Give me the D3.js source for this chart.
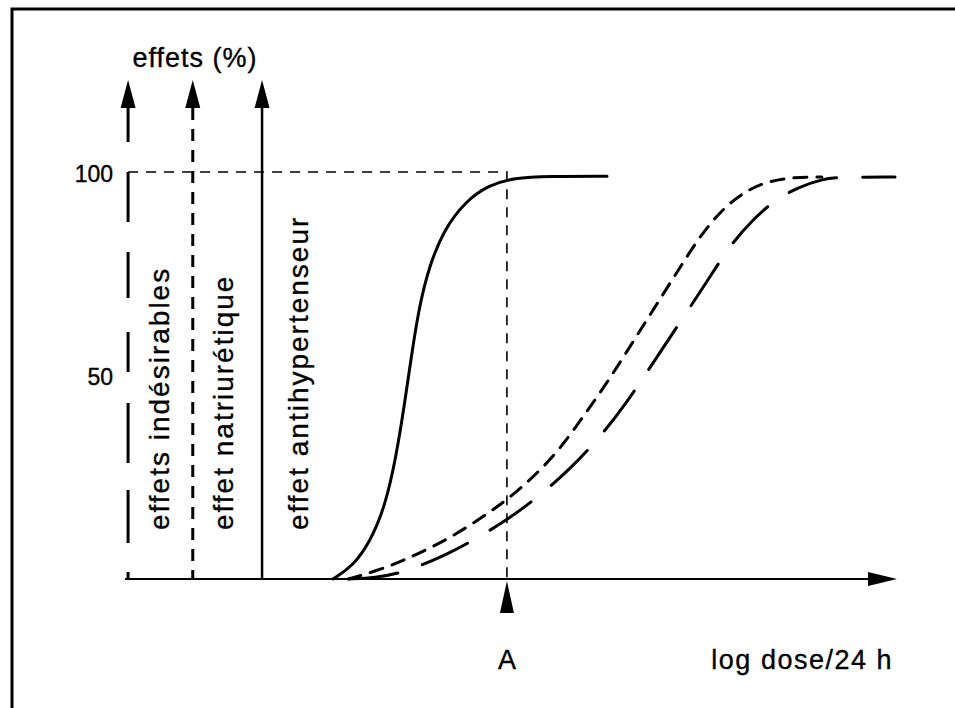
<!DOCTYPE html>
<html><head><meta charset="utf-8">
<script src="https://cdn.jsdelivr.net/npm/d3@7"></script>
<style>
html,body{margin:0;padding:0;background:#fff;}
svg{display:block;}
text{font-family:"Liberation Sans", Arial, Helvetica, sans-serif; fill:#000; stroke:#000; stroke-width:0.35px;}
</style>
</head><body>
<svg id="chart" width="955" height="708"></svg>
<script>
// ---- data ----
const yTicks = [50, 100];
const yTickLabels = ["50", "100"];
const yTitle = "effets (%)";
const xTitle = "log dose/24 h";
const doseA = 4.96;
const doseALabel = "A";
const effectNames = ["effets indésirables", "effet natriurétique", "effet antihypertenseur"];
const effectAxisDose = [0.04, 0.88, 1.78];

const antihypertenseurDose = [2.70, 2.95, 3.18, 3.38, 3.52, 3.63, 3.72, 3.82, 3.95, 4.14, 4.42, 4.72, 5.05, 5.50, 6.26];
const antihypertenseurPct  = [0, 3, 9, 18, 30, 43, 55, 67, 77, 86, 93, 97, 98.8, 99.2, 99.2];

const natriuretiqueDose = [2.90, 3.27, 3.61, 3.95, 4.30, 4.70, 4.96, 5.30, 5.65, 5.95, 6.25, 6.55, 6.85, 7.15, 7.45, 7.75, 8.05, 8.35, 8.70, 9.05];
const natriuretiquePct  = [0, 2, 4.5, 7.5, 11, 16, 19.5, 25, 32, 40, 48, 57, 66, 75, 84, 91, 95.5, 98, 99, 99];

const indesirablesDose = [2.90, 3.25, 3.61, 4.18, 4.52, 4.96, 5.35, 5.78, 6.17, 6.50, 6.85, 7.20, 7.55, 7.85, 8.15, 8.45, 8.75, 9.05, 9.30, 10.0];
const indesirablesPct  = [0, 0.3, 1.5, 6, 9.5, 14.5, 20, 27, 35, 43, 53, 63, 73, 82, 88.5, 93.5, 96.5, 98.5, 99, 99];

// ---- layout ----
const svg = d3.select("#chart");
const x = d3.scaleLinear().domain([0, 10]).range([125, 895]);
const y = d3.scaleLinear().domain([0, 100]).range([579, 173]);
const arrowTopY = 80;
const arrowBaseY = 108;

// frame (top and left edges visible)
svg.append("path").attr("d", "M12,708 L12,9 L955,9")
  .attr("fill", "none").attr("stroke", "#000").attr("stroke-width", 3);

// styles for each effect
const effectStyles = [
  {axisDash: "34,30,50,30,46,34,40,31,60,27,53,29,12", curveDash: "50,26", curveWidth: 3},
  {axisDash: "12,9", curveDash: "13,10", curveWidth: 3},
  {axisDash: null, curveDash: null, curveWidth: 3}
];

// vertical effect axes with arrowheads
effectAxisDose.forEach((d, i) => {
  const px = x(d);
  const ln = svg.append("line").attr("x1", px).attr("x2", px)
    .attr("y1", arrowBaseY).attr("y2", y(0) + 1)
    .attr("stroke", "#000").attr("stroke-width", i === 2 ? 2.5 : 3);
  if (effectStyles[i].axisDash) ln.attr("stroke-dasharray", effectStyles[i].axisDash);
  svg.append("path")
    .attr("d", `M${px},${arrowTopY} L${px - 7.5},${arrowBaseY} L${px + 7.5},${arrowBaseY} Z`)
    .attr("fill", "#000");
});

// reference dashed lines: 100% level and dose A
svg.append("path")
  .attr("d", `M${x(effectAxisDose[0])},${y(100) - 1} L${x(doseA)},${y(100) - 1} L${x(doseA)},${y(0)}`)
  .attr("fill", "none").attr("stroke", "#000").attr("stroke-width", 1.6)
  .attr("stroke-dasharray", "10,8");

// x axis (baseline + arrow)
svg.append("line").attr("x1", x(0)).attr("x2", x(10) - 20)
  .attr("y1", y(0)).attr("y2", y(0)).attr("stroke", "#000").attr("stroke-width", 2);
svg.append("path")
  .attr("d", `M${x(10) + 2},${y(0)} L${x(10) - 27},${y(0) - 7} L${x(10) - 27},${y(0) + 7} Z`)
  .attr("fill", "#000");

// y tick labels
const yAxis = d3.axisLeft(y).tickValues(yTicks)
  .tickFormat((d, i) => yTickLabels[i]).tickSize(0).tickPadding(15);
const gy = svg.append("g").attr("transform", `translate(${x(effectAxisDose[0])},0)`).call(yAxis);
gy.select(".domain").remove();
gy.selectAll("text").attr("font-size", 23).attr("font-family", "Liberation Sans, Arial, sans-serif")
  .attr("fill", "#000").attr("dy", "0.36em");

// y title
svg.append("text").attr("x", 195).attr("y", 67).attr("text-anchor", "middle")
  .attr("font-size", 27).attr("letter-spacing", 1).text(yTitle);

// effect labels (rotated)
const labelBaselineX = [169, 233, 308];
effectNames.forEach((name, i) => {
  svg.append("text")
    .attr("transform", `translate(${labelBaselineX[i]},530) rotate(-90)`)
    .attr("font-size", 28).attr("letter-spacing", 2).text(name);
});

// curves
const line = d3.line().x(d => x(d[0])).y(d => y(d[1])).curve(d3.curveBasis);
const seriesList = [
  d3.zip(indesirablesDose, indesirablesPct),
  d3.zip(natriuretiqueDose, natriuretiquePct),
  d3.zip(antihypertenseurDose, antihypertenseurPct)
];
seriesList.forEach((pts, i) => {
  const p = svg.append("path").datum(pts).attr("d", line)
    .attr("fill", "none").attr("stroke", "#000")
    .attr("stroke-width", effectStyles[i].curveWidth).attr("stroke-linecap", "round");
  if (effectStyles[i].curveDash) p.attr("stroke-dasharray", effectStyles[i].curveDash);
});

// A marker
const ax = x(doseA);
svg.append("path")
  .attr("d", `M${ax},${y(0) + 2} L${ax - 7},${y(0) + 34} L${ax + 7},${y(0) + 34} Z`)
  .attr("fill", "#000");
svg.append("text").attr("x", ax).attr("y", 669).attr("text-anchor", "middle")
  .attr("font-size", 27).text(doseALabel);

// x title
svg.append("text").attr("x", 893).attr("y", 669).attr("text-anchor", "end")
  .attr("font-size", 27).attr("letter-spacing", 1.5).text(xTitle);
</script>
</body></html>
